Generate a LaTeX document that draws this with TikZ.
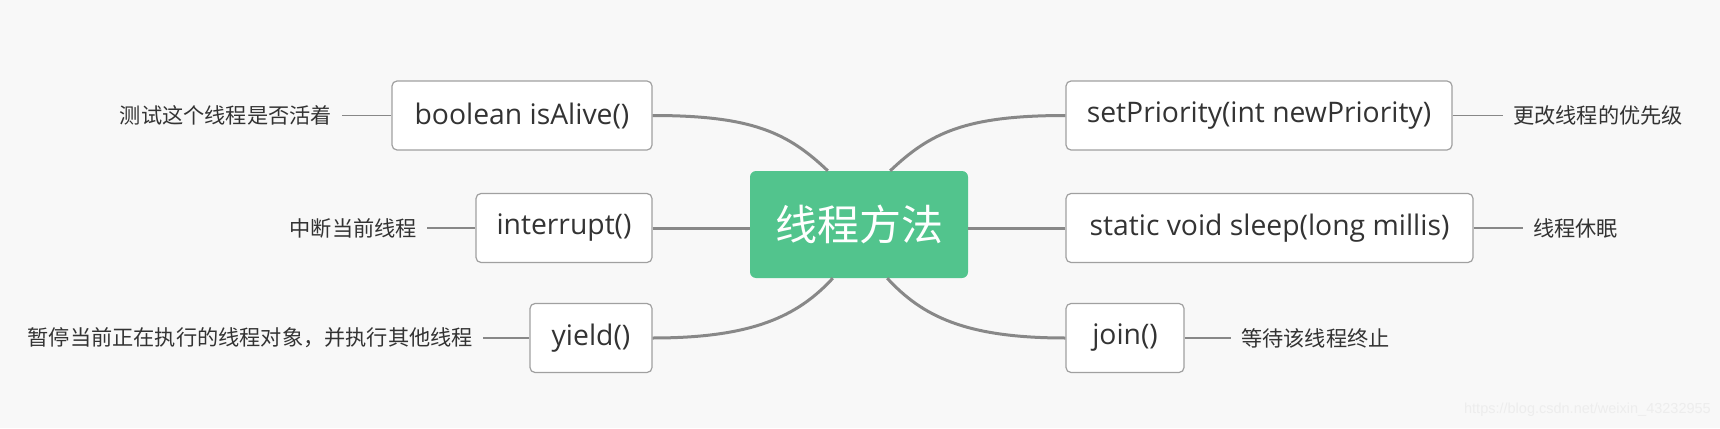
\documentclass[tikz,border=0pt]{standalone}
\usepackage{fontspec}
\setmainfont{Open Sans}
\newfontfamily\cjk{Noto Sans CJK SC}
\newfontfamily\wmfont{Liberation Sans}
\usetikzlibrary{calc}
\definecolor{bg}{HTML}{F8F8F8}
\definecolor{mygreen}{HTML}{52C48D}
\definecolor{edgecol}{HTML}{888888}
\definecolor{boxline}{HTML}{A0A0A0}
\definecolor{txt}{HTML}{333333}
\begin{document}
\begin{tikzpicture}[x=1pt,y=-1pt,
  box/.style={draw=boxline, line width=1.2pt, fill=white, rounded corners=5pt,
    minimum height=69pt, inner sep=0pt, text=txt, font=\fontsize{28.3}{32}\selectfont},
  lbl/.style={text=txt, font=\cjk\fontsize{21.2}{24}\selectfont, inner xsep=10pt, inner ysep=0pt},
  mainedge/.style={draw=edgecol, line width=3pt},
  thinedge/.style={draw=edgecol, line width=1.5pt}]
\fill[bg] (0,0) rectangle (1720,428);
\useasboundingbox (0,0) rectangle (1720,428);

% center
\node[fill=mygreen, rounded corners=6pt, minimum width=218pt, minimum height=107pt,
  inner sep=0pt, text=white, font=\cjk\fontsize{42}{48}\selectfont] (c) at (859,224.5) {线程方法};

% left boxes
\node[box, minimum width=260pt] (b1) at (522,115.5) {boolean isAlive()};
\node[box, minimum width=176pt] (b2) at (564,228) {interrupt()};
\node[box, minimum width=122pt] (b3) at (591,338) {yield()};
% right boxes
\node[box, minimum width=386pt] (b4) at (1259,115.5) {setPriority(int newPriority)};
\node[box, minimum width=407pt] (b5) at (1269.5,228) {static void sleep(long millis)};
\node[box, minimum width=118pt] (b6) at (1125,338) {join()};

% main connectors
\draw[mainedge] (b1.east) .. controls +(100,0) and +(-40,-38) .. ($(c.north west)+(78,0)$);
\draw[mainedge] (b2.east) -- (c.west |- b2.east);
\draw[mainedge] (b3.east) .. controls +(100,0) and +(-35,38) .. ($(c.south west)+(83,0)$);
\draw[mainedge] (b4.west) .. controls +(-100,0) and +(40,-38) .. ($(c.north east)+(-78,0)$);
\draw[mainedge] (b5.west) -- (c.east |- b5.west);
\draw[mainedge] (b6.west) .. controls +(-100,0) and +(35,38) .. ($(c.south east)+(-81,0)$);

% labels
\node[lbl, anchor=east] (l1) at (342,115.5) {测试这个线程是否活着};
\node[lbl, anchor=east] (l2) at (427,228) {中断当前线程};
\node[lbl, anchor=east] (l3) at (483,338) {暂停当前正在执行的线程对象，并执行其他线程};
\node[lbl, anchor=west] (l4) at (1503,115.5) {更改线程的优先级};
\node[lbl, anchor=west] (l5) at (1523,228) {线程休眠};
\node[lbl, anchor=west] (l6) at (1231,338) {等待该线程终止};

\draw[thinedge] (l1.east) -- (b1.west);
\draw[thinedge] (l2.east) -- (b2.west);
\draw[thinedge] (l3.east) -- (b3.west);
\draw[thinedge] (b4.east) -- (l4.west);
\draw[thinedge] (b5.east) -- (l5.west);
\draw[thinedge] (b6.east) -- (l6.west);

% watermark
\node[text=black!7, font=\wmfont\fontsize{14.5}{16}\selectfont, anchor=east, inner sep=0pt] (wm) at (1711,410) {https://blog.csdn.net/weixin\_43232955};
\end{tikzpicture}
\end{document}
